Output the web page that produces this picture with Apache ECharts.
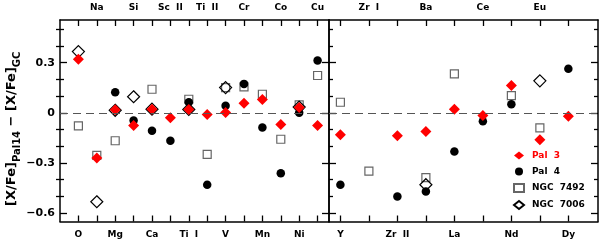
<!DOCTYPE html>
<html><head><meta charset="utf-8">
<script src="https://cdn.jsdelivr.net/npm/echarts@6/dist/echarts.min.js"></script>
<style>html,body{margin:0;padding:0;background:#fff}#c{width:600px;height:243px}</style>
</head><body><div id="c"></div>
<script>
// ---- data ----
const leftElements  = ['O','Na','Mg','Si','Ca','Sc  II','Ti  I','Ti  II','V','Cr','Mn','Co','Ni','Cu'];
const rightElements = ['Y','Zr  I','Zr  II','Ba','La','Ce','Nd','Eu','Dy'];

const pal3Left    = [0.32, -0.27, 0.018, -0.076, 0.022, -0.03, 0.02, -0.01, 0.002, 0.057, 0.079, -0.07, 0.032, -0.076];
const pal4Left    = [null, null, 0.123, -0.046, -0.108, -0.167, 0.063, -0.43, 0.042, 0.173, -0.088, -0.361, 0.0, 0.313];
const ngc7492Left = [-0.078, -0.255, -0.167, null, 0.141, null, 0.081, -0.249, 0.15, 0.155, 0.111, -0.158, 0.048, 0.223];
const ngc7006Left = [0.366, -0.532, 0.015, 0.096, 0.022, null, 0.02, null, 0.151, null, null, null, 0.034, null];

const pal3Right    = [-0.131, null, -0.137, -0.112, 0.022, -0.016, 0.163, -0.161, -0.02];
const pal4Right    = [-0.43, null, -0.50, -0.47, -0.231, -0.05, 0.051, null, 0.263];
const ngc7492Right = [0.063, -0.349, null, -0.388, 0.233, null, 0.103, -0.09, null];
const ngc7006Right = [null, null, null, -0.43, null, null, null, 0.191, null];

const yMajorTicks = [-0.6, -0.3, 0, 0.3];
const yMinorTicks = [-0.5, -0.4, -0.2, -0.1, 0.1, 0.2, 0.4, 0.5];
const yMin = -0.65, yMax = 0.555;
const leftRange  = [0, 14.62];
const rightRange = [0.6, 10.04];

// ---- helpers ----
const FONT = 'DejaVu Sans';
const pts = arr => arr.map((v, i) => v == null ? null : [i + 1, v]).filter(p => p);
const idx = n => Array.from({length: n}, (_, i) => i + 1);

function xAxes(gridIndex, names, range) {
  const all = idx(names.length);
  const odd = all.filter(v => v % 2 === 1), even = all.filter(v => v % 2 === 0);
  const base = {
    type: 'value', gridIndex, min: range[0], max: range[1],
    splitLine: {show: false},
    axisLine: {show: true, onZero: false, lineStyle: {color: '#000', width: 1.5}},
    axisTick: {show: true, inside: true, length: 6, customValues: all, lineStyle: {color: '#000', width: 1.3}},
    axisLabel: {fontFamily: FONT, fontWeight: 'bold', fontSize: 9, color: '#000',
      formatter: v => names[Math.round(v) - 1] || ''}
  };
  return [
    Object.assign({}, base, {position: 'bottom', axisLabel: Object.assign({}, base.axisLabel, {customValues: odd, margin: 9})}),
    Object.assign({}, base, {position: 'top', axisLabel: Object.assign({}, base.axisLabel, {customValues: even, margin: 8})})
  ];
}

function fmtY(v) {
  if (Math.abs(v) < 1e-9) return '0';
  return (v < 0 ? '\u2212' : '') + Math.abs(v).toFixed(1);
}

function yAxes(gridIndex, withLabels) {
  const base = {type: 'value', gridIndex, min: yMin, max: yMax, splitLine: {show: false}};
  const major = (pos) => Object.assign({}, base, {
    position: pos,
    axisLine: {show: true, onZero: false, lineStyle: {color: '#000', width: 1.5}},
    axisTick: {show: true, inside: true, length: 7, customValues: yMajorTicks, lineStyle: {color: '#000', width: 1.3}},
    axisLabel: {show: withLabels && pos === 'left', customValues: yMajorTicks, margin: 5,
      fontFamily: FONT, fontWeight: 'bold', fontSize: 11, color: '#000', formatter: fmtY}
  });
  const minor = (pos) => Object.assign({}, base, {
    position: pos,
    axisLine: {show: false},
    axisTick: {show: true, inside: true, length: 4, customValues: yMinorTicks, lineStyle: {color: '#000', width: 1.3}},
    axisLabel: {show: false}
  });
  const axes = [major('left'), minor('left'), major('right'), minor('right')];
  if (withLabels) {
    axes[0].name = '{a|[X/Fe]}{s|Pal14}{a| \u2212 [X/Fe]}{s|GC}';
    axes[0].nameLocation = 'middle';
    axes[0].nameGap = 38;
    axes[0].nameRotate = 90;
    axes[0].nameTextStyle = {
      padding: [0, 16, 0, 0],
      rich: {
        a: {fontFamily: FONT, fontWeight: 'bold', fontSize: 13, color: '#000'},
        s: {fontFamily: FONT, fontWeight: 'bold', fontSize: 10, color: '#000', padding: [10, 0, 0, 0]}
      }
    };
  }
  return axes;
}

function seriesFor(xi, yi, p3, p4, n7492, n7006) {
  return [
    {name: 'NGC  7492', type: 'scatter', xAxisIndex: xi, yAxisIndex: yi, data: pts(n7492),
      symbol: 'rect', symbolSize: 8,
      itemStyle: {color: 'rgba(255,255,255,0)', borderColor: '#666', borderWidth: 1.2, opacity: 1}},
    {name: 'NGC  7006', type: 'scatter', xAxisIndex: xi, yAxisIndex: yi, data: pts(n7006),
      symbol: 'diamond', symbolSize: 12,
      itemStyle: {color: 'rgba(255,255,255,0)', borderColor: '#000', borderWidth: 1.2, opacity: 1}},
    {name: 'Pal  4', type: 'scatter', xAxisIndex: xi, yAxisIndex: yi, data: pts(p4),
      symbol: 'circle', symbolSize: 8.5, itemStyle: {color: '#000', opacity: 1}},
    {name: 'Pal  3', type: 'scatter', xAxisIndex: xi, yAxisIndex: yi, data: pts(p3),
      symbol: 'diamond', symbolSize: 11, itemStyle: {color: '#ff0000', opacity: 1},
      markLine: {silent: true, symbol: 'none', label: {show: false},
        lineStyle: {type: [8, 5], color: '#555', width: 1},
        data: [{yAxis: 0}]}}
  ];
}

const chart = echarts.init(document.getElementById('c'), null, {renderer: 'canvas'});
chart.setOption({
  animation: false,
  backgroundColor: '#fff',
  grid: [
    {left: 60, top: 20, width: 269, height: 201.5, outerBoundsMode: 'none', containLabel: false},
    {left: 329, top: 20, width: 269, height: 201.5, outerBoundsMode: 'none', containLabel: false}
  ],
  xAxis: [].concat(xAxes(0, leftElements, leftRange), xAxes(1, rightElements, rightRange)),
  yAxis: [].concat(yAxes(0, true), yAxes(1, false)),
  legend: {
    orient: 'vertical', left: 508, top: 146, itemGap: 7, itemWidth: 10, itemHeight: 8,
    symbolKeepAspect: true,
    selectedMode: false,
    textStyle: {fontFamily: FONT, fontWeight: 'bold', fontSize: 9, color: '#000', padding: [0, 0, 0, 3]},
    data: [
      {name: 'Pal  3', textStyle: {color: '#ff0000'}},
      {name: 'Pal  4', itemStyle: {color: '#000'}},
      {name: 'NGC  7492'},
      {name: 'NGC  7006'}
    ]
  },
  series: [].concat(
    seriesFor(0, 0, pal3Left, pal4Left, ngc7492Left, ngc7006Left),
    seriesFor(2, 4, pal3Right, pal4Right, ngc7492Right, ngc7006Right)
  )
});
</script></body></html>
